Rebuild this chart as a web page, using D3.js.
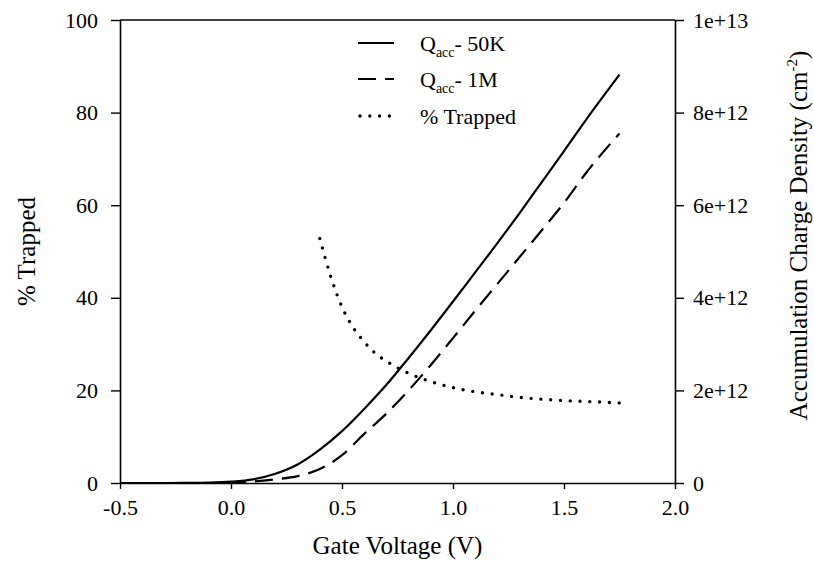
<!DOCTYPE html>
<html>
<head>
<meta charset="utf-8">
<script src="https://cdn.jsdelivr.net/npm/d3@7"></script>
<style>
  html, body { margin: 0; padding: 0; background: #fff; }
</style>
</head>
<body>
<svg id="chart" width="814" height="583"></svg>
<script>
// ---- data ----
const gateVoltage = [-0.5, -0.3, -0.2, -0.1, 0.0, 0.1, 0.2, 0.3, 0.4, 0.5, 0.6, 0.7, 0.8, 0.9, 1.0, 1.1, 1.2, 1.3, 1.4, 1.5, 1.6, 1.75];
const qacc50K = [0, 0, 0.003e12, 0.01e12, 0.03e12, 0.08e12, 0.2e12, 0.4e12, 0.72e12, 1.12e12, 1.6e12, 2.12e12, 2.7e12, 3.3e12, 3.92e12, 4.55e12, 5.18e12, 5.83e12, 6.5e12, 7.17e12, 7.85e12, 8.82e12];
const qacc1M  = [0, 0, 0, 0, 0.005e12, 0.03e12, 0.08e12, 0.15e12, 0.3e12, 0.6e12, 1.06e12, 1.5e12, 2.0e12, 2.55e12, 3.13e12, 3.72e12, 4.3e12, 4.88e12, 5.46e12, 6.05e12, 6.7e12, 7.55e12];
const trappedVoltage = [0.40, 0.45, 0.50, 0.55, 0.60, 0.65, 0.70, 0.75, 0.80, 0.90, 1.00, 1.10, 1.20, 1.30, 1.40, 1.50, 1.60, 1.75];
const trappedPct     = [52.8, 44.5, 38.0, 33.6, 30.5, 28.0, 26.3, 24.9, 23.7, 21.9, 20.6, 19.7, 19.1, 18.5, 18.1, 17.8, 17.6, 17.3];
const xTicks = [-0.5, 0.0, 0.5, 1.0, 1.5, 2.0];
const xTickLabels = ["-0.5", "0.0", "0.5", "1.0", "1.5", "2.0"];
const leftTicks = [0, 20, 40, 60, 80, 100];
const rightTicks = [0, 2e12, 4e12, 6e12, 8e12, 1e13];
const rightTickLabels = ["0", "2e+12", "4e+12", "6e+12", "8e+12", "1e+13"];

// ---- layout ----
const FONT = "Liberation Serif";
const svg = d3.select("#chart");
const L = 120, R = 675, T = 20, B = 483;
const x = d3.scaleLinear().domain([-0.5, 2.0]).range([L, R]);
const yL = d3.scaleLinear().domain([0, 100]).range([B, T]);
const yR = d3.scaleLinear().domain([0, 1e13]).range([B, T]);

const tickFont = 22;
const titleFont = 25;

// axes
const gx = svg.append("g").attr("transform", `translate(0,${B})`)
  .call(d3.axisBottom(x).tickValues(xTicks).tickFormat((d, i) => xTickLabels[i]).tickSize(6).tickSizeOuter(0).tickPadding(10));
const gl = svg.append("g").attr("transform", `translate(${L},0)`)
  .call(d3.axisLeft(yL).tickValues(leftTicks).tickFormat(d => String(d)).tickSize(9).tickSizeOuter(0).tickPadding(13));
const gr = svg.append("g").attr("transform", `translate(${R},0)`)
  .call(d3.axisRight(yR).tickValues(rightTicks).tickFormat((d, i) => rightTickLabels[i]).tickSize(9).tickSizeOuter(0).tickPadding(9));
[gx, gl, gr].forEach(g => {
  g.style("font-family", FONT);
  g.selectAll("path.domain").attr("stroke", "#000").attr("stroke-width", 1.6);
  g.selectAll(".tick line").attr("stroke", "#000").attr("stroke-width", 1.4);
  g.selectAll(".tick text").style("font-family", FONT).style("font-size", tickFont + "px").attr("fill", "#000");
});
gx.selectAll(".tick text").attr("dy", "0.71em");
// top border
svg.append("line").attr("x1", L).attr("x2", R).attr("y1", T).attr("y2", T)
  .attr("stroke", "#000").attr("stroke-width", 1.6);

// lines
const lineQ = d3.line().x(d => x(d[0])).y(d => yR(d[1])).curve(d3.curveMonotoneX);
const lineT = d3.line().x(d => x(d[0])).y(d => yL(d[1])).curve(d3.curveMonotoneX);

svg.append("path").datum(gateVoltage.map((v, i) => [v, qacc50K[i]]))
  .attr("d", lineQ).attr("fill", "none").attr("stroke", "#000").attr("stroke-width", 2.2);
svg.append("path").datum(gateVoltage.map((v, i) => [v, qacc1M[i]]))
  .attr("d", lineQ).attr("fill", "none").attr("stroke", "#000").attr("stroke-width", 2.2)
  .attr("stroke-dasharray", "18 9");
svg.append("path").datum(trappedVoltage.map((v, i) => [v, trappedPct[i]]))
  .attr("d", lineT).attr("fill", "none").attr("stroke", "#000").attr("stroke-width", 3.4)
  .attr("stroke-linecap", "round").attr("stroke-dasharray", "0 9.8");

// axis titles
svg.append("text").attr("x", (L + R) / 2).attr("y", 554).attr("text-anchor", "middle")
  .style("font-family", FONT).style("font-size", titleFont + "px").text("Gate Voltage (V)");
svg.append("text").attr("transform", `translate(35,${(T + B) / 2}) rotate(-90)`)
  .style("font-family", FONT).style("font-size", titleFont + "px").attr("text-anchor", "middle").text("% Trapped");
const rt = svg.append("text").attr("transform", `translate(807,${(T + B) / 2 - 16}) rotate(-90)`)
  .style("font-family", FONT).style("font-size", titleFont + "px").attr("text-anchor", "middle");
rt.append("tspan").text("Accumulation Charge Density (cm");
rt.append("tspan").style("font-size", "15px").attr("dy", -10).text("-2");
rt.append("tspan").attr("dy", 10).text(")");

// legend
const legendItems = [
  { label: "- 50K", sub: true, dash: null, width: 2.2, cap: "butt" },
  { label: "- 1M", sub: true, dash: "18 9", width: 2.2, cap: "butt" },
  { label: "% Trapped", sub: false, dash: "0 9.8", width: 3.4, cap: "round" }
];
const legY = [43, 79, 116];
legendItems.forEach((it, i) => {
  const yy = legY[i];
  svg.append("line").attr("x1", it.cap === "round" ? 360 : 358).attr("x2", it.cap === "round" ? 392 : 394)
    .attr("y1", yy).attr("y2", yy).attr("stroke", "#000").attr("stroke-width", it.width)
    .attr("stroke-dasharray", it.dash).attr("stroke-linecap", it.cap);
  const t = svg.append("text").attr("x", 420).attr("y", yy + 8).style("font-family", FONT).style("font-size", "22px");
  if (it.sub) {
    t.append("tspan").text("Q");
    t.append("tspan").style("font-size", "14px").attr("dy", 6).text("acc");
    t.append("tspan").attr("dy", -6).text(it.label);
  } else {
    t.text(it.label);
  }
});
</script>
</body>
</html>
